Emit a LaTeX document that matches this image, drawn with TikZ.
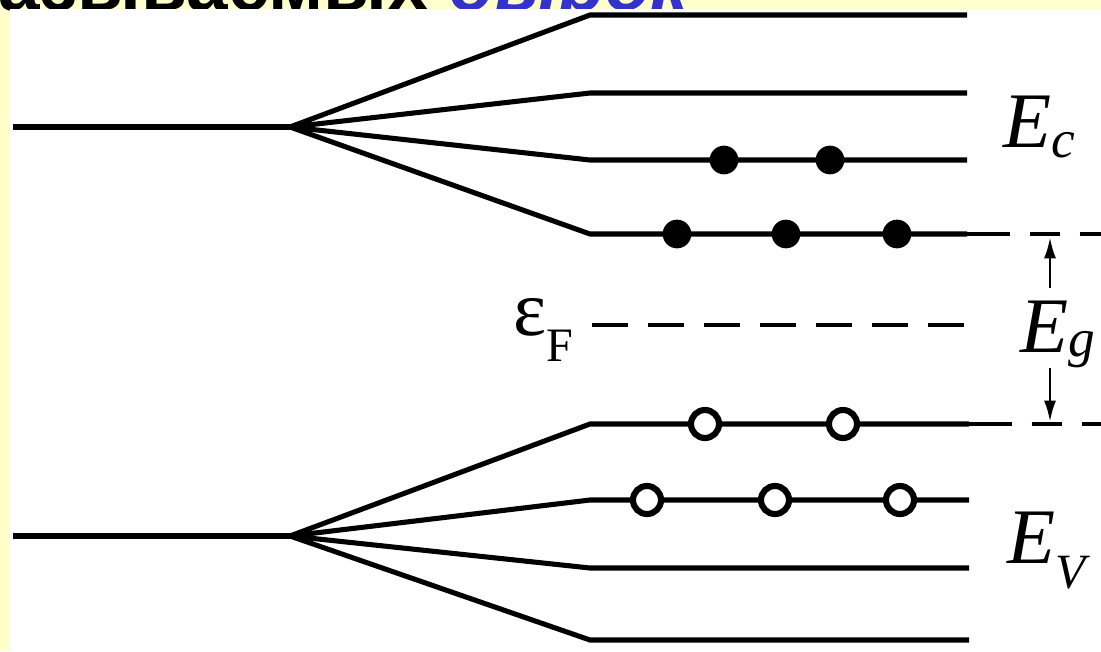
\documentclass[tikz,border=0pt]{standalone}
\usepackage{fontspec}
\setmainfont{Liberation Serif}
\newfontfamily\headfont{Liberation Sans}
\usetikzlibrary{arrows.meta}
\definecolor{slideyellow}{HTML}{FFFFCC}
\definecolor{holeblue}{HTML}{3333CC}
\tikzset{
  lvl/.style={line width=3.8pt},
  gapline/.style={line width=2.6pt, dash pattern=on 32pt off 15pt on 22.5pt off 15pt},
  fermi/.style={line width=3.6pt, dash pattern=on 27pt off 15pt},
  gaparrow/.style={line width=2.2pt, -{Latex[length=16pt,width=9pt]}},
  electron/.style={circle, fill=black, inner sep=0pt, minimum size=21.5pt},
  hole/.style={circle, draw=black, fill=white, line width=4.6pt, inner sep=0pt, minimum size=21pt},
  lbl/.style={inner sep=0pt, anchor=base west, font=\fontsize{59}{60}\selectfont},
}
\newcommand{\sublbl}[4]{#1\raisebox{-#4}{\fontsize{#3}{#3}\selectfont #2}}

\begin{document}
\begin{tikzpicture}[x=0.75pt,y=-0.75pt]
  \clip (0,0) rectangle (1101,651);
  \fill[slideyellow] (0,0) rectangle (1101,651);
  \node[anchor=base west, inner sep=0pt, font=\headfont\bfseries\fontsize{56}{60}\selectfont] (head) at (-2,10) {азываемых \textcolor{holeblue}{\itshape дырок}};
  \fill[white] (10,9) rectangle (1101,651);

  % conduction band levels
  \coordinate (cl) at (13,127); \coordinate (cf) at (290,127);
  \draw[lvl] (cl) -- (cf);
  \foreach \y [count=\i] in {15,93,160,234} {
    \coordinate (c\i) at (590,\y); \coordinate (ce\i) at (967,\y);
    \draw[lvl] (cf) -- (c\i) -- (ce\i);
  }
  % valence band levels
  \coordinate (vl) at (13,536); \coordinate (vf) at (290,536);
  \draw[lvl] (vl) -- (vf);
  \foreach \y [count=\i] in {424,500,568,640} {
    \coordinate (v\i) at (590,\y); \coordinate (ve\i) at (969,\y);
    \draw[lvl] (vf) -- (v\i) -- (ve\i);
  }

  % gap edges
  \coordinate (cr) at (1101,234); \coordinate (vr) at (1101,424);
  \draw[gapline] (ce4) -- (cr);
  \draw[gapline] (ve1) -- (vr);

  % electrons and holes
  \foreach \x [count=\i] in {724,830} \node[electron] (ea\i) at (\x,160) {};
  \foreach \x [count=\i] in {677,786,897} \node[electron] (eb\i) at (\x,234) {};
  \foreach \x [count=\i] in {705,843} \node[hole] (ha\i) at (\x,424) {};
  \foreach \x [count=\i] in {647,775,900} \node[hole] (hb\i) at (\x,500) {};

  % Fermi level
  \node[lbl] (fermilbl) at (513,335) {\sublbl{ε}{F}{36}{20pt}};
  \coordinate (fs) at (592,325); \coordinate (fe) at (965,325);
  \draw[fermi] (fs) -- (fe);

  % labels
  \node[lbl] (Ec) at (1003,147) {\sublbl{\textit{E}}{\textit{c}}{40}{7.5pt}};
  \node[lbl] (Ev) at (1007,563) {\sublbl{\textit{E}}{\textit{V}}{37}{19pt}};
  \node[lbl] (Eg) at (1020,352) {\sublbl{\textit{E}}{\textit{g}}{40}{3pt}};
  \coordinate (gt) at (1050,237); \coordinate (gb) at (1050,422);
  \draw[gaparrow] ([yshift=9pt]Eg.north -| gt) -- (gt);
  \draw[gaparrow] (Eg.south -| gb) -- (gb);
\end{tikzpicture}
\end{document}
